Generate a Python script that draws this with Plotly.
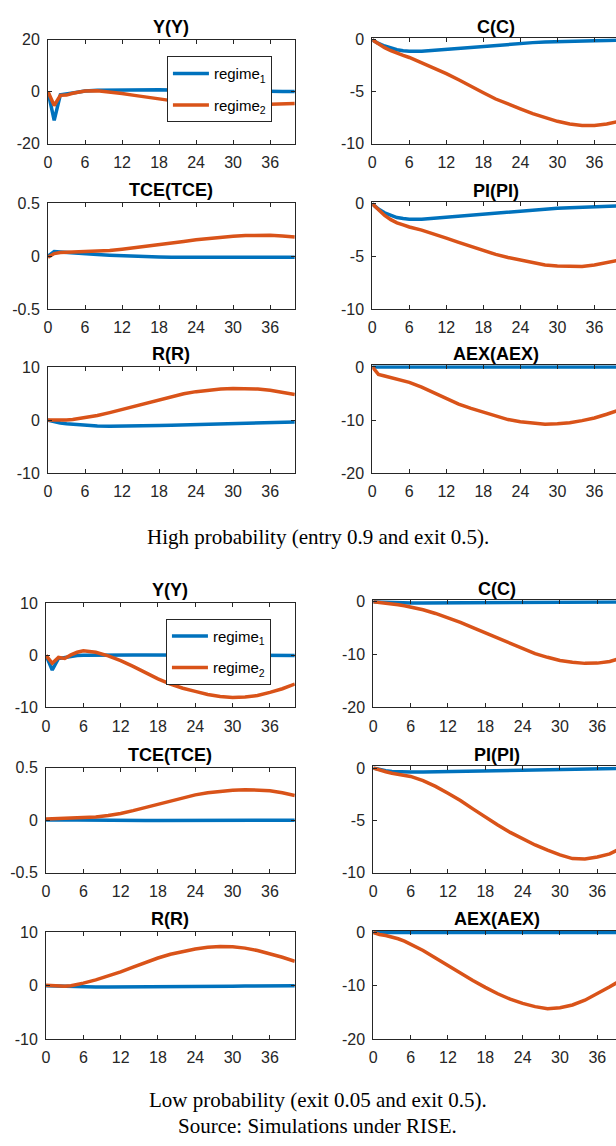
import plotly.graph_objects as go

W, H = 616, 1146

# horizon (quarters)
x = [0, 1, 2, 3, 4, 5, 6, 8, 10, 12, 14, 16, 18, 20, 22, 24, 26, 28, 30, 32, 34, 36, 38, 40]
xticks = [0, 6, 12, 18, 24, 30, 36]

# ---------------- High probability (entry 0.9 and exit 0.5) ----------------
Y_hi_r1 = [0, -11.0, -1.2, -1.0, -0.5, -0.1, 0.3, 0.6, 0.7, 0.8, 0.8, 0.8, 0.8, 0.7, 0.6, 0.5, 0.4, 0.3, 0.3, 0.2, 0.2, 0.1, 0.1, 0.1]
Y_hi_r2 = [0, -5.3, -1.4, -1.3, -0.6, -0.1, 0.3, 0.4, 0.0, -0.7, -1.4, -2.1, -2.9, -3.6, -4.1, -4.5, -4.8, -5.0, -5.1, -5.1, -5.0, -4.8, -4.7, -4.5]
C_hi_r1 = [0, -0.35, -0.6, -0.8, -0.95, -1.05, -1.1, -1.1, -1.0, -0.9, -0.8, -0.7, -0.6, -0.5, -0.4, -0.33, -0.27, -0.22, -0.17, -0.13, -0.1, -0.08, -0.06, -0.05]
C_hi_r2 = [0, -0.4, -0.75, -1.05, -1.3, -1.5, -1.7, -2.2, -2.7, -3.25, -3.85, -4.5, -5.1, -5.7, -6.2, -6.65, -7.1, -7.5, -7.85, -8.1, -8.25, -8.25, -8.1, -7.85]
TCE_hi_r1 = [0, 0.045, 0.04, 0.035, 0.03, 0.027, 0.023, 0.016, 0.01, 0.004, 0.0, -0.004, -0.007, -0.009, -0.01, -0.01, -0.01, -0.01, -0.01, -0.01, -0.01, -0.01, -0.01, -0.01]
TCE_hi_r2 = [-0.01, 0.025, 0.035, 0.037, 0.038, 0.039, 0.04, 0.045, 0.055, 0.067, 0.08, 0.095, 0.11, 0.125, 0.14, 0.155, 0.168, 0.18, 0.19, 0.196, 0.2, 0.198, 0.192, 0.183]
PI_hi_r1 = [0, -0.5, -0.85, -1.1, -1.3, -1.4, -1.45, -1.45, -1.35, -1.25, -1.15, -1.05, -0.95, -0.85, -0.75, -0.65, -0.58, -0.5, -0.42, -0.36, -0.3, -0.25, -0.22, -0.2]
PI_hi_r2 = [0, -0.6, -1.1, -1.5, -1.8, -2.0, -2.2, -2.5, -2.85, -3.25, -3.65, -4.05, -4.45, -4.8, -5.1, -5.35, -5.6, -5.8, -5.9, -5.95, -5.95, -5.8, -5.6, -5.35]
R_hi_r1 = [0, -0.35, -0.55, -0.7, -0.8, -0.9, -1.0, -1.1, -1.15, -1.15, -1.1, -1.05, -1.0, -0.95, -0.9, -0.8, -0.75, -0.7, -0.6, -0.55, -0.5, -0.45, -0.4, -0.35]
R_hi_r2 = [0, -0.05, -0.05, 0, 0.1, 0.25, 0.4, 0.85, 1.4, 2.0, 2.6, 3.25, 3.9, 4.45, 4.95, 5.35, 5.65, 5.85, 5.95, 5.95, 5.85, 5.6, 5.25, 4.8]
AEX_hi_r1 = [0] * 24
AEX_hi_r2 = [0, -1.4, -1.7, -2.0, -2.3, -2.6, -2.9, -3.8, -4.9, -6.0, -7.0, -7.8, -8.5, -9.3, -9.9, -10.3, -10.6, -10.8, -10.7, -10.5, -10.1, -9.6, -8.9, -8.1]

# ---------------- Low probability (exit 0.05 and exit 0.5) ----------------
Y_lo_r1 = [0, -2.8, -0.6, -0.4, -0.1, 0, 0.05, 0.1, 0.1, 0.1, 0.1, 0.1, 0.1, 0.1, 0.1, 0.1, 0.1, 0.1, 0.1, 0.05, 0.05, 0.05, 0.0, 0.0]
Y_lo_r2 = [0, -1.5, -0.4, -0.6, 0.1, 0.6, 0.9, 0.6, -0.1, -1.0, -2.1, -3.3, -4.5, -5.5, -6.3, -6.9, -7.5, -7.9, -8.1, -8.0, -7.7, -7.1, -6.4, -5.5]
C_lo_r1 = [0, -0.05, -0.1, -0.15, -0.18, -0.2, -0.22, -0.22, -0.2, -0.18, -0.15, -0.13, -0.1, -0.08, -0.06, -0.05, -0.04, -0.03, -0.02, -0.02, -0.01, -0.01, 0, 0]
C_lo_r2 = [0, -0.1, -0.25, -0.4, -0.55, -0.75, -0.95, -1.5, -2.2, -3.0, -3.9, -4.9, -5.9, -6.9, -7.9, -8.9, -9.8, -10.5, -11.1, -11.45, -11.65, -11.6, -11.3, -10.6]
TCE_lo_r1 = [0, 0.002, 0.002, 0.002, 0.001, 0.001, 0, 0, 0, -0.002, -0.003, -0.003, -0.003, -0.003, -0.003, -0.003, -0.002, -0.002, -0.002, -0.002, -0.002, -0.002, -0.002, -0.002]
TCE_lo_r2 = [0.01, 0.012, 0.014, 0.015, 0.016, 0.018, 0.022, 0.03, 0.045, 0.063, 0.09, 0.12, 0.155, 0.185, 0.215, 0.24, 0.26, 0.275, 0.285, 0.29, 0.287, 0.28, 0.26, 0.235]
PI_lo_r1 = [0, -0.15, -0.25, -0.32, -0.36, -0.38, -0.38, -0.37, -0.35, -0.32, -0.29, -0.26, -0.23, -0.2, -0.18, -0.15, -0.13, -0.11, -0.09, -0.07, -0.06, -0.05, -0.04, -0.03]
PI_lo_r2 = [0, -0.2, -0.35, -0.5, -0.6, -0.7, -0.8, -1.2, -1.75, -2.4, -3.1, -3.9, -4.7, -5.45, -6.15, -6.75, -7.35, -7.85, -8.3, -8.65, -8.7, -8.5, -8.2, -7.6]
R_lo_r1 = [0, -0.05, -0.1, -0.15, -0.2, -0.2, -0.25, -0.25, -0.25, -0.25, -0.25, -0.2, -0.2, -0.2, -0.15, -0.15, -0.1, -0.1, -0.1, -0.05, -0.05, 0, 0, 0]
R_lo_r2 = [0.1, 0.0, -0.1, -0.1, 0.0, 0.2, 0.5, 1.1, 1.8, 2.6, 3.5, 4.4, 5.2, 5.9, 6.45, 6.9, 7.2, 7.35, 7.3, 7.05, 6.6, 6.0, 5.35, 4.6]
AEX_lo_r1 = [0] * 24
AEX_lo_r2 = [0, -0.4, -0.6, -0.85, -1.2, -1.65, -2.2, -3.4, -4.8, -6.2, -7.7, -9.0, -10.3, -11.5, -12.5, -13.3, -13.9, -14.3, -14.1, -13.6, -12.7, -11.5, -10.2, -8.8]

captions = ["High probability (entry 0.9 and exit 0.5).",
            "Low probability (exit 0.05 and exit 0.5).",
            "Source: Simulations under RISE."]
legend_names = ["regime<sub>1</sub>", "regime<sub>2</sub>"]

BLUE = "#0072BD"
ORANGE = "#D95319"
AX = "#262626"
FONT = "Arial, Liberation Sans, sans-serif"


def fmt(v):
    # MATLAB-style tick text with an ASCII hyphen for negatives
    return "%g" % v


# panels: (title, r1, r2, yrange, ytickvals, x px domain, y px domain, x range end, legend)
panels = [
    ("Y(Y)", Y_hi_r1, Y_hi_r2, [-20, 20], [-20, 0, 20], (44.3, 292.7), (32.3, 137.7), 40, "legend"),
    ("C(C)", C_hi_r1, C_hi_r2, [-10, 0], [-10, -5, 0], (370.7, 616), (32.3, 137.7), 39.5, None),
    ("TCE(TCE)", TCE_hi_r1, TCE_hi_r2, [-0.5, 0.5], [-0.5, 0, 0.5], (44.3, 292.7), (198.3, 305.7), 40, None),
    ("PI(PI)", PI_hi_r1, PI_hi_r2, [-10, 0], [-10, -5, 0], (370.7, 616), (198.8, 305.7), 39.5, None),
    ("R(R)", R_hi_r1, R_hi_r2, [-10, 10], [-10, 0, 10], (44.3, 292.7), (364.3, 472.3), 40, None),
    ("AEX(AEX)", AEX_hi_r1, AEX_hi_r2, [-20, 0], [-20, -10, 0], (370.7, 616), (364.3, 472.3), 39.5, None),
    ("Y(Y)", Y_lo_r1, Y_lo_r2, [-10, 10], [-10, 0, 10], (42.3, 292.7), (604.3, 710), 40, "legend2"),
    ("C(C)", C_lo_r1, C_lo_r2, [-20, 0], [-20, -10, 0], (371.7, 616), (602.8, 710), 39.0, None),
    ("TCE(TCE)", TCE_lo_r1, TCE_lo_r2, [-0.5, 0.5], [-0.5, 0, 0.5], (42.3, 292.7), (771, 877.7), 40, None),
    ("PI(PI)", PI_lo_r1, PI_lo_r2, [-10, 0], [-10, -5, 0], (371.7, 616), (771.5, 877.7), 39.0, None),
    ("R(R)", R_lo_r1, R_lo_r2, [-10, 10], [-10, 0, 10], (42.3, 292.7), (938.3, 1046.7), 40, None),
    ("AEX(AEX)", AEX_lo_r1, AEX_lo_r2, [-20, 0], [-20, -10, 0], (371.7, 616), (938.3, 1046.7), 39.0, None),
]

fig = go.Figure()
annotations = []

for i, (title, r1, r2, yr, ytv, xd, yd, xend, leg) in enumerate(panels, start=1):
    xa = "x" if i == 1 else f"x{i}"
    ya = "y" if i == 1 else f"y{i}"
    right_col = xd[1] >= 616
    for series, name, color, grp in ((r1, legend_names[0], BLUE, "g1"), (r2, legend_names[1], ORANGE, "g2")):
        fig.add_trace(go.Scatter(
            x=x, y=series, mode="lines", name=name,
            line=dict(color=color, width=3.5),
            xaxis=xa, yaxis=ya,
            showlegend=leg is not None,
            legend=leg if leg else "legend",
            legendgroup=(grp + (leg or "")),
            hoverinfo="skip",
        ))
    # when the top of the y range is 0, leave ~1.7 px so the line drawn
    # on the box edge is not half clipped (MATLAB draws it unclipped)
    plot_h = yd[1] - yd[0]
    pad = 0.0
    if yr[1] == 0:
        pad = (yr[1] - yr[0]) * 1.7 / plot_h
    xkey = "xaxis" if i == 1 else f"xaxis{i}"
    ykey = "yaxis" if i == 1 else f"yaxis{i}"
    fig.layout[xkey] = dict(
        domain=[xd[0] / W, min(xd[1] / W, 1.0)], anchor=ya, range=[0, xend],
        tickvals=xticks, ticktext=[fmt(v) for v in xticks],
        ticks="inside", ticklen=4, tickcolor=AX, tickwidth=1,
        showline=True, linecolor=AX, linewidth=1, mirror="allticks",
        showgrid=False, zeroline=False, fixedrange=True,
        ticklabelstandoff=4,
        tickfont=dict(family=FONT, size=16, color=AX),
    )
    fig.layout[ykey] = dict(
        domain=[1 - yd[1] / H, 1 - (yd[0] - 1.7 if pad else yd[0]) / H],
        anchor=xa, range=[yr[0], yr[1] + pad],
        tickvals=ytv, ticktext=[fmt(v) for v in ytv],
        ticks="inside", ticklen=4, tickcolor=AX, tickwidth=1,
        showline=True, linecolor=AX, linewidth=1,
        mirror=False if right_col else "allticks",
        showgrid=False, zeroline=False, fixedrange=True,
        ticklabelstandoff=4,
        tickfont=dict(family=FONT, size=16, color=AX),
    )
    if right_col:
        xcenter = xd[0] + 124.2
    else:
        xcenter = (xd[0] + xd[1]) / 2
    annotations.append(dict(
        text=f"<b>{title}</b>", xref="paper", yref="paper",
        x=xcenter / W, y=1 - yd[0] / H, xanchor="center", yanchor="bottom",
        yshift=1, showarrow=False,
        font=dict(family=FONT, size=18, color="#000000"),
    ))

caption_y = [537, 1108, 1135]
for txt, cy in zip(captions, caption_y):
    annotations.append(dict(
        text=txt, xref="paper", yref="paper", x=316 / W, y=1 - cy / H,
        xanchor="center", yanchor="middle", showarrow=False,
        font=dict(family="Times New Roman, Liberation Serif, serif", size=21, color="#000000"),
    ))

legend_style = dict(
    xanchor="left", yanchor="top", bgcolor="#FFFFFF", bordercolor=AX, borderwidth=1,
    font=dict(family=FONT, size=15, color="#000000"), tracegroupgap=9,
    itemwidth=36, traceorder="grouped",
)
fig.update_layout(
    width=W, height=H, margin=dict(l=0, r=0, t=0, b=0),
    paper_bgcolor="white", plot_bgcolor="white",
    annotations=annotations,
    legend=dict(x=164 / W, y=1 - 49 / H, **legend_style),
    legend2=dict(x=163 / W, y=1 - 620 / H, **legend_style),
    showlegend=True,
)

fig.write_html("out.html")
